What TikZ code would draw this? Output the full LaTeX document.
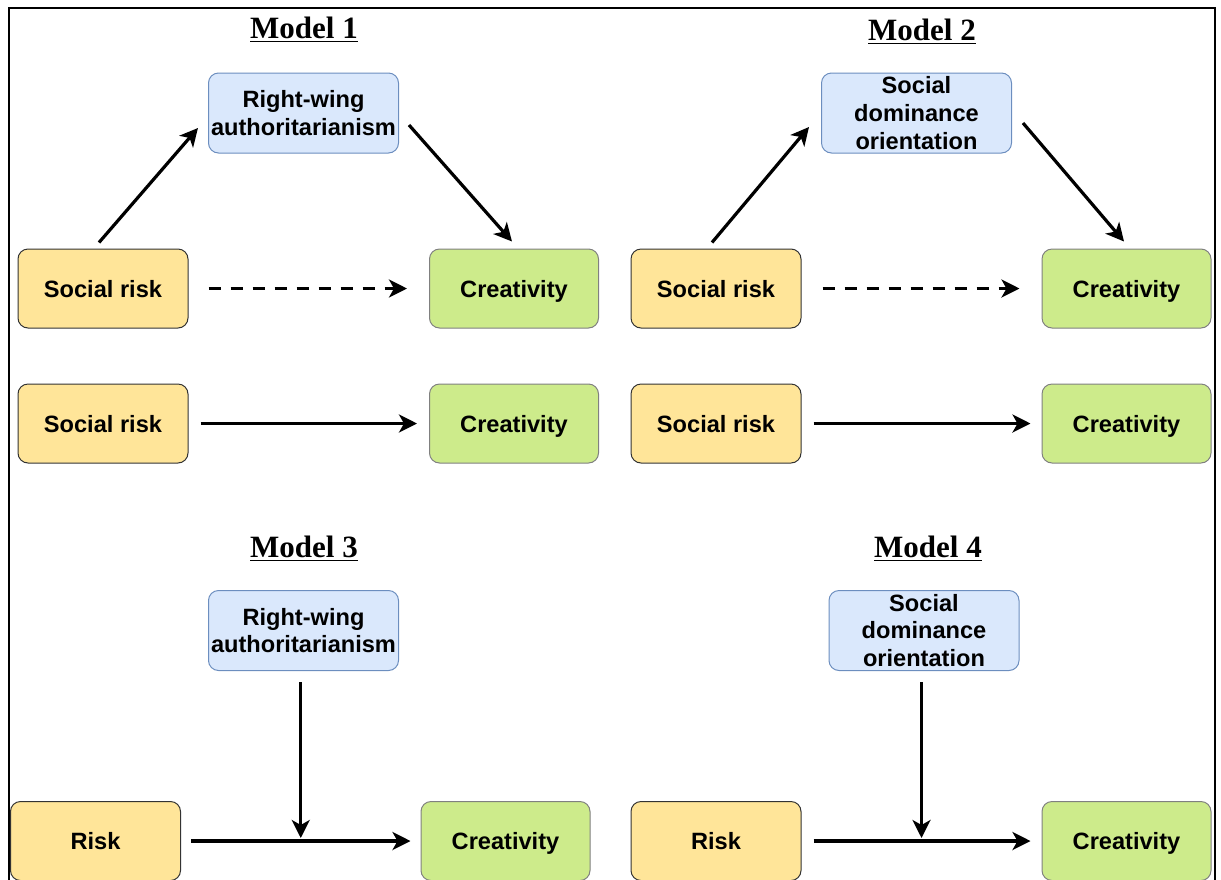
\documentclass[tikz,border=0pt]{standalone}
\usepackage{fontspec}
\setmainfont{Liberation Serif}
\setsansfont{Liberation Sans}
\usetikzlibrary{arrows.meta,calc}
\definecolor{riskfill}{HTML}{FFE599}
\definecolor{creafill}{HTML}{CDEB8B}
\definecolor{traitfill}{HTML}{DAE8FC}
\definecolor{traitline}{HTML}{6C8EBF}
\begin{document}
\begin{tikzpicture}[x=0.5pt,y=-0.5pt,
  box/.style={rectangle, rounded corners=5pt, line width=0.5pt, inner sep=0pt, align=center,
    font=\sffamily\bfseries\fontsize{11.8}{13.9}\selectfont},
  onebox/.style={box, text height=8.5pt, text depth=0pt},
  riskbox/.style={onebox, fill=riskfill, draw=black!80, minimum width=85pt, minimum height=39.5pt},
  creabox/.style={onebox, fill=creafill, draw=black!50, minimum width=84.5pt, minimum height=39.5pt},
  traitbox/.style={box, fill=traitfill, draw=traitline, minimum width=95pt, minimum height=40pt},
  title/.style={font=\rmfamily\bfseries\fontsize{15.5}{18}\selectfont, inner sep=0pt},
  arr/.style={line width=1.6pt, -{Stealth[length=9pt,width=9pt,inset=2.5pt]}},
  dasharr/.style={arr, dash pattern=on 6pt off 5pt}]
\clip (0,0) rectangle (1221,879);
\useasboundingbox (0,0) rectangle (1221,879);
% outer frame
\draw[line width=1pt] (9,8) rectangle (1215,900);

% ---- Model 1 ----
\node[title] (t1) at (304,30) {\underline{Model 1}};
\node[traitbox] (rwa1) at (303.5,113) {Right-wing\\authoritarianism};
\node[riskbox] (sr1a) at (103,288.5) {Social risk};
\node[creabox] (cr1a) at (514,288.5) {Creativity};
\node[riskbox] (sr1b) at (103,423.5) {Social risk};
\node[creabox] (cr1b) at (514,423.5) {Creativity};
\draw[arr] ($(sr1a.north)+(-4,-6)$) -- ($(rwa1.west)+(-10,15)$);
\draw[arr] ($(rwa1.east)+(10,12)$) -- ($(cr1a.north)+(-2,-7)$);
\draw[dasharr, shorten <=10pt, shorten >=11pt] (sr1a.east) -- (cr1a.west);
\draw[arr, shorten <=6pt, shorten >=6pt] (sr1b.east) -- (cr1b.west);

% ---- Model 2 ----
\node[title] (t2) at (922,32) {\underline{Model 2}};
\node[traitbox] (sdo2) at (916.5,113) {Social\\dominance\\orientation};
\node[riskbox] (sr2a) at (716,288.5) {Social risk};
\node[creabox] (cr2a) at (1126.5,288.5) {Creativity};
\node[riskbox] (sr2b) at (716,423.5) {Social risk};
\node[creabox] (cr2b) at (1126.5,423.5) {Creativity};
\draw[arr] ($(sr2a.north)+(-4,-6)$) -- ($(sdo2.west)+(-12,14)$);
\draw[arr] ($(sdo2.east)+(11,10)$) -- ($(cr2a.north)+(-2.5,-7)$);
\draw[dasharr, shorten <=10.5pt, shorten >=11pt] (sr2a.east) -- (cr2a.west);
\draw[arr, shorten <=6pt, shorten >=5.5pt] (sr2b.east) -- (cr2b.west);

% ---- Model 3 ----
\node[title] (t3) at (304,549) {\underline{Model 3}};
\node[traitbox] (rwa3) at (303.5,630.5) {Right-wing\\authoritarianism};
\node[riskbox] (r3) at (95.5,841) {Risk};
\node[creabox] (cr3) at (505.5,841) {Creativity};
\draw[arr, shorten <=5pt, shorten >=5pt] (r3.east) -- (cr3.west);
\coordinate (m3) at ($(r3.east)!0.5!(cr3.west)$);
\draw[arr, shorten <=5.5pt, shorten >=1.5pt] (m3 |- rwa3.south) -- (m3);

% ---- Model 4 ----
\node[title] (t4) at (928,549) {\underline{Model 4}};
\node[traitbox] (sdo4) at (924,630.5) {Social\\dominance\\orientation};
\node[riskbox] (r4) at (716,841) {Risk};
\node[creabox] (cr4) at (1126.5,841) {Creativity};
\draw[arr, shorten <=6pt, shorten >=5.5pt] (r4.east) -- (cr4.west);
\coordinate (m4) at ($(r4.east)!0.5!(cr4.west)$);
\draw[arr, shorten <=5.5pt, shorten >=1.5pt] (m4 |- sdo4.south) -- (m4);
\end{tikzpicture}
\end{document}
